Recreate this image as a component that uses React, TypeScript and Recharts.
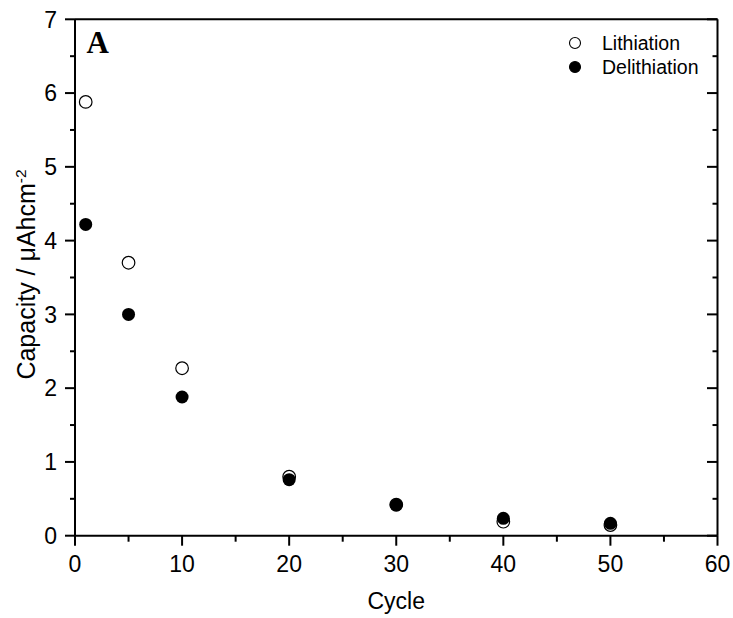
import { Label, Legend, Scatter, ScatterChart, XAxis, YAxis } from "recharts";

// Capacity per cycle for the lithiation / delithiation steps
const cycles = [1, 5, 10, 20, 30, 40, 50];
const lithiation = [5.88, 3.7, 2.27, 0.8, 0.42, 0.19, 0.145];
const delithiation = [4.22, 3.0, 1.88, 0.76, 0.415, 0.235, 0.168];

// major ticks get a label, the half steps are minor ticks
const xTicks = [0, 5, 10, 15, 20, 25, 30, 35, 40, 45, 50, 55, 60];
const yTicks = [0, 0.5, 1, 1.5, 2, 2.5, 3, 3.5, 4, 4.5, 5, 5.5, 6, 6.5, 7];
const xMajorStep = 10;

const FONT = '"Liberation Sans", Arial, sans-serif';
const INK = "#000";

const series = [
  { name: "Lithiation", values: lithiation, fill: "#fff" },
  { name: "Delithiation", values: delithiation, fill: INK },
];

const toPoints = (values: number[]) =>
  cycles.map((cycle, i) => ({ cycle, capacity: values[i] }));

function LeftTick(props: any) {
  const { x, y, payload } = props;
  const major = Number.isInteger(payload.value);
  return (
    <g>
      <line x1={x - (major ? 10 : 5)} x2={x} y1={y} y2={y} stroke={INK} strokeWidth={2} />
      {major && (
        <text x={x - 18} y={y} dy="0.36em" textAnchor="end" fontSize={23} fontFamily={FONT} fill={INK}>
          {payload.value}
        </text>
      )}
    </g>
  );
}

// frame on the right: ticks point into the plot, no labels
function RightTick(props: any) {
  const { x, y, payload } = props;
  const major = Number.isInteger(payload.value);
  return <line x1={x - (major ? 10.5 : 5)} x2={x} y1={y} y2={y} stroke={INK} strokeWidth={2} />;
}

function BottomTick(props: any) {
  const { x, y, payload } = props;
  const major = payload.value % xMajorStep === 0;
  return (
    <g>
      <line x1={x} x2={x} y1={y} y2={y + (major ? 10 : 6)} stroke={INK} strokeWidth={2} />
      {major && (
        <text x={x} y={y + 36.5} textAnchor="middle" fontSize={23} fontFamily={FONT} fill={INK}>
          {payload.value}
        </text>
      )}
    </g>
  );
}

const openDot = (p: any) => (
  <circle cx={p.cx} cy={p.cy} r={6.3} fill="#fff" stroke={INK} strokeWidth={1.2} />
);
const filledDot = (p: any) => <circle cx={p.cx} cy={p.cy} r={6.5} fill={INK} />;

function LegendBox() {
  return (
    <div style={{ fontFamily: FONT, fontSize: 19.5, color: INK }}>
      {series.map((s) => (
        <div key={s.name} style={{ display: "flex", alignItems: "center", height: 24, lineHeight: "24px" }}>
          <svg width={16} height={16} style={{ marginRight: 19 }}>
            <circle cx={8} cy={8} r={5.5} fill={s.fill} stroke={INK} strokeWidth={1.1} />
          </svg>
          <span>{s.name}</span>
        </div>
      ))}
    </div>
  );
}

export default function App() {
  const axisLine = { stroke: INK, strokeWidth: 2 };
  return (
    <div style={{ position: "absolute", left: 0, top: 0, width: 733, height: 618, background: "#fff" }}>
      <ScatterChart width={733} height={618} margin={{ top: 18.3, right: 14.5, bottom: 0, left: 0 }}>
        <XAxis
          dataKey="cycle"
          type="number"
          domain={[0, 60]}
          ticks={xTicks}
          interval={0}
          height={82.3}
          axisLine={axisLine}
          tickLine={false}
          tickSize={0}
          tickMargin={0}
          tick={<BottomTick />}
        >
          <Label
            content={({ viewBox }: any) => (
              <text
                x={viewBox.x + viewBox.width / 2}
                y={viewBox.y + 73}
                textAnchor="middle"
                fontSize={23}
                fontFamily={FONT}
                fill={INK}
              >
                Cycle
              </text>
            )}
          />
        </XAxis>
        <XAxis
          xAxisId="top"
          orientation="top"
          type="number"
          domain={[0, 60]}
          ticks={xTicks}
          height={1}
          axisLine={axisLine}
          tickLine={false}
          tick={false}
          allowDataOverflow
        >
          <Label
            content={({ viewBox }: any) => (
              <text
                x={viewBox.x + 11.5}
                y={viewBox.y + viewBox.height + 34}
                fontSize={31}
                fontWeight="bold"
                fontFamily='"Liberation Serif", "Times New Roman", serif'
                fill={INK}
              >
                A
              </text>
            )}
          />
        </XAxis>
        <YAxis
          dataKey="capacity"
          type="number"
          domain={[0, 7]}
          ticks={yTicks}
          interval={0}
          width={75}
          axisLine={axisLine}
          tickLine={false}
          tickSize={0}
          tickMargin={0}
          tick={<LeftTick />}
        >
          <Label
            content={({ viewBox }: any) => {
              const cx = 34.5;
              const cy = viewBox.y + viewBox.height / 2 - 3;
              return (
                <text
                  x={cx}
                  y={cy}
                  transform={`rotate(-90, ${cx}, ${cy})`}
                  textAnchor="middle"
                  fontSize={25}
                  fontFamily={FONT}
                  fill={INK}
                >
                  Capacity / μAhcm
                  <tspan dy={-9} fontSize={15.5}>
                    -2
                  </tspan>
                </text>
              );
            }}
          />
        </YAxis>
        <YAxis
          yAxisId="right"
          orientation="right"
          type="number"
          domain={[0, 7]}
          ticks={yTicks}
          interval={0}
          width={1}
          axisLine={axisLine}
          tickLine={false}
          tickSize={0}
          tickMargin={0}
          tick={<RightTick />}
          allowDataOverflow
        />
        <Legend
          layout="vertical"
          align="center"
          verticalAlign="middle"
          wrapperStyle={{ left: 567, top: 31, width: 160 }}
          content={() => <LegendBox />}
        />
        <Scatter
          name={series[0].name}
          data={toPoints(series[0].values)}
          shape={openDot}
          isAnimationActive={false}
        />
        <Scatter
          name={series[1].name}
          data={toPoints(series[1].values)}
          shape={filledDot}
          isAnimationActive={false}
        />
      </ScatterChart>
    </div>
  );
}
